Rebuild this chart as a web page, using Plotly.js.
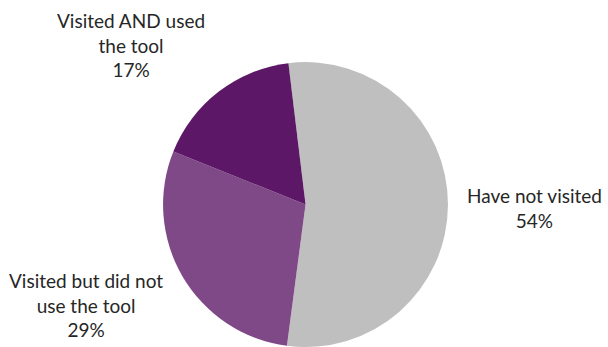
<!DOCTYPE html>
<html>
<head>
<meta charset="utf-8">
<script src="https://cdn.plot.ly/plotly-3.0.1.min.js"></script>
<style>html,body{margin:0;padding:0;background:#fff;}#chart{width:608px;height:347px;}</style>
</head>
<body>
<div id="chart"></div>
<script>
// Data
const categories = ['Have not visited', 'Visited but did not use the tool', 'Visited AND used the tool'];
const labelLines = ['Have not visited', 'Visited but did not<br>use the tool', 'Visited AND used<br>the tool'];
const shares = [54, 29, 17];
const sliceColors = ['#BFBFBF', '#7F4987', '#5D1767'];

// Label placement (paper coordinates)
const labelPos = [
  {x: 0.879, y: 0.402},
  {x: 0.141, y: 0.122},
  {x: 0.2155, y: 0.870}
];

const trace = {
  type: 'pie',
  labels: categories,
  values: shares,
  sort: false,
  direction: 'clockwise',
  rotation: -6.9,
  marker: {colors: sliceColors, line: {width: 0}},
  textinfo: 'none',
  hoverinfo: 'label+percent',
  showlegend: false,
  domain: {x: [0.268, 0.737], y: [0, 0.821]}
};

const total = shares.reduce((a, b) => a + b, 0);
const annotations = categories.map((c, i) => ({
  xref: 'paper', yref: 'paper',
  x: labelPos[i].x, y: labelPos[i].y,
  xanchor: 'center', yanchor: 'middle',
  align: 'center',
  showarrow: false,
  text: labelLines[i] + '<br>' + Math.round(shares[i] / total * 100) + '%',
  font: {family: 'Lato, sans-serif', size: 19, color: '#262626'}
}));

const layout = {
  width: 608, height: 347,
  margin: {l: 0, r: 0, t: 0, b: 0},
  paper_bgcolor: '#ffffff',
  plot_bgcolor: '#ffffff',
  annotations: annotations,
  showlegend: false
};

Plotly.newPlot('chart', [trace], layout, {displayModeBar: false, staticPlot: true});
</script>
</body>
</html>
